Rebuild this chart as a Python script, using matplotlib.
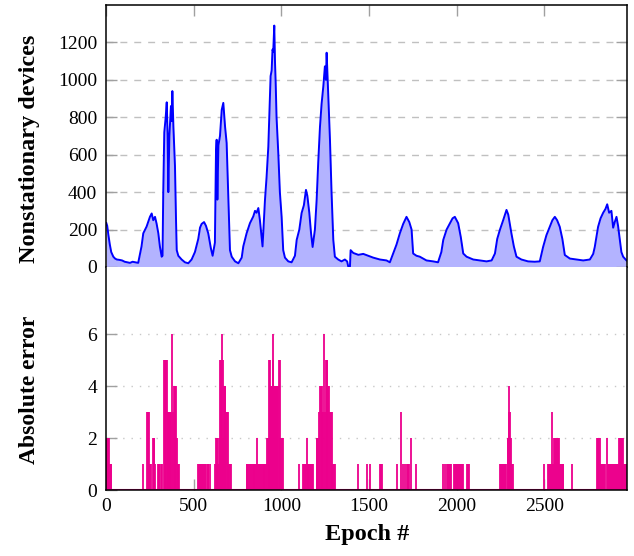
import matplotlib
matplotlib.use('Agg')
import matplotlib.pyplot as plt
import numpy as np

# nonstationary devices per epoch
dev_epoch = [0, 5, 12, 20, 28, 40, 50, 60, 75, 90, 105, 120, 135, 150, 165, 182,
             201, 211, 230, 249, 259, 268, 278, 287, 297, 306, 316,
             321, 325, 331, 339, 345, 350, 354, 360, 369, 373, 377, 383, 392, 398,
             402, 411, 430, 449, 468, 487,
             506, 525, 535, 544, 558, 569, 582, 597, 607,
             620, 626, 630, 634, 640, 649, 659, 668, 678, 687, 697, 706, 716, 735,
             754, 773,
             782, 801, 820, 839, 849, 858, 868, 877, 892,
             906, 915, 925, 934, 938, 944, 949, 953, 959, 963, 967, 972, 982, 991,
             1001, 1010, 1020, 1039, 1058, 1077,
             1087, 1102, 1115, 1128, 1140, 1148, 1159, 1169, 1178,
             1191, 1201, 1210, 1220, 1229, 1239, 1248, 1254, 1258, 1264, 1269, 1277,
             1286, 1296, 1305, 1324, 1343, 1362, 1375, 1382, 1391, 1395, 1410, 1439,
             1467, 1496, 1524, 1562, 1600, 1619,
             1638, 1657, 1676, 1695, 1714, 1730, 1743, 1752, 1771, 1790, 1828, 1866,
             1894, 1913, 1924, 1943, 1962, 1977, 1990, 2009, 2024, 2038, 2057, 2095,
             2133, 2171, 2200, 2219, 2232, 2247, 2266, 2285, 2295, 2304, 2313, 2327,
             2342, 2370, 2408, 2446, 2475, 2494, 2513, 2532, 2547, 2561, 2574, 2589,
             2604, 2618, 2647, 2685, 2723, 2761, 2780, 2789, 2808, 2822, 2837, 2850,
             2860, 2871, 2884, 2894, 2903, 2913, 2922, 2932, 2941, 2951, 2970]
dev_count = [235, 220, 170, 120, 80, 55, 45, 40, 38, 35, 28, 25, 22, 28, 25, 22,
             110, 180, 216, 268, 286, 250, 268, 232, 180, 109, 55,
             60, 400, 720, 800, 880, 700, 400, 700, 860, 780, 940, 750, 540, 250,
             90, 60, 40, 25, 20, 40,
             80, 150, 210, 230, 240, 220, 180, 100, 60,
             130, 600, 680, 360, 650, 700, 840, 877, 750, 663, 360, 90, 55, 30,
             20, 50,
             110, 180, 234, 270, 300, 290, 315, 250, 110,
             360, 480, 643, 900, 1020, 1050, 1162, 1150, 1290, 1100, 985, 800, 607, 400,
             268, 90, 50, 30, 25, 60,
             145, 200, 288, 330, 412, 380, 290, 180, 107,
             200, 360, 560, 750, 870, 965, 1072, 1000, 1145, 1000, 877, 680,
             400, 145, 55, 40, 30, 40, 30, 0, 0, 90, 75, 65,
             70, 60, 50, 40, 35, 25,
             72, 120, 180, 230, 268, 240, 200, 72, 60, 55, 35, 30,
             25, 80, 145, 200, 234, 260, 268, 234, 160, 72, 55, 40,
             35, 30, 35, 72, 150, 198, 250, 305, 280, 230, 180, 110,
             55, 40, 30, 28, 30, 107, 170, 215, 250, 268, 250, 215,
             150, 64, 45, 40, 35, 40, 70, 107, 215, 260, 290, 310,
             335, 290, 300, 210, 240, 268, 220, 145, 80, 55, 35]

# absolute error per epoch
err_epoch = [0, 4, 8, 12, 16, 20, 24, 28,
             211, 234, 238, 242, 246, 250, 253, 265, 270, 274, 278, 293, 298, 303, 310, 316,
             329, 333, 337, 341, 345, 350, 354, 358, 362, 366, 370, 375, 379, 386, 390, 394,
             398, 402, 407, 411, 415,
             525, 530, 535, 541, 547, 554, 560, 566, 572, 578, 583, 592,
             620, 626, 630, 634, 640, 645, 649, 653, 657, 659, 664, 668, 672, 676, 680,
             684, 688, 692, 697, 701, 705, 710,
             801, 806, 811, 816, 821, 826, 831, 836, 841, 846, 851, 856, 862, 868, 873,
             878, 883, 888, 893, 898, 903, 908, 913, 919, 923, 927, 931, 935, 938, 942,
             946, 949, 953, 957, 961, 965, 969, 973, 977, 981, 986, 989, 993, 998, 1003, 1007,
             1100, 1125, 1130, 1135, 1140, 1144, 1149, 1154, 1159, 1164, 1169, 1174, 1179,
             1201, 1205, 1210, 1216, 1220, 1224, 1229, 1233, 1238, 1243, 1248, 1254, 1258,
             1262, 1267, 1272, 1277, 1282, 1286, 1290, 1295, 1300, 1305,
             1439, 1490, 1505, 1562, 1567, 1572,
             1661, 1680, 1696, 1705, 1718, 1724, 1730, 1737, 1766,
             1924, 1934, 1947, 1952, 1957, 1962, 1966, 1987, 1992, 1997, 2002, 2008,
             2013, 2019, 2028, 2033, 2038, 2057, 2063, 2070,
             2247, 2253, 2259, 2265, 2271, 2277, 2283, 2291, 2295, 2298, 2302, 2305,
             2308, 2313, 2318, 2324,
             2500, 2523, 2528, 2533, 2538, 2544, 2549, 2557, 2562, 2567, 2572, 2577,
             2582, 2588, 2594, 2600, 2605, 2609, 2660,
             2802, 2806, 2810, 2814, 2818, 2824, 2830, 2836, 2842, 2848, 2856, 2862,
             2868, 2874, 2880, 2886, 2892, 2898, 2904, 2910, 2916, 2922, 2928, 2933,
             2938, 2943, 2947, 2951, 2958, 2964, 2970]
err_value = [2, 2, 2, 2, 2, 1, 1, 1,
             1, 3, 3, 3, 1, 1, 1, 2, 2, 2, 1, 1, 1, 1, 1, 1,
             5, 5, 5, 5, 5, 3, 3, 3, 3, 3, 3, 6, 3, 4, 4, 4,
             4, 2, 1, 1, 1,
             1, 1, 1, 1, 1, 1, 1, 1, 1, 1, 1, 1,
             1, 2, 2, 2, 1, 2, 5, 5, 5, 6, 5, 2, 4, 4, 4,
             3, 3, 3, 1, 1, 1, 1,
             1, 1, 1, 1, 1, 1, 1, 1, 1, 1, 1, 1, 2, 1, 1,
             1, 1, 1, 1, 1, 1, 1, 1, 2, 2, 2, 5, 5, 4, 4,
             4, 6, 5, 4, 4, 4, 4, 4, 4, 4, 5, 5, 2, 2, 2, 2,
             1, 1, 1, 1, 1, 2, 1, 1, 1, 1, 1, 1, 1,
             2, 2, 2, 3, 4, 4, 4, 3, 3, 6, 3, 5, 5,
             5, 4, 4, 3, 3, 3, 1, 1, 1, 1,
             1, 1, 1, 1, 1, 1,
             1, 3, 1, 1, 1, 1, 1, 2, 1,
             1, 1, 1, 1, 1, 1, 1, 1, 1, 1, 1, 1,
             1, 1, 1, 1, 1, 1, 1, 1,
             1, 1, 1, 1, 1, 1, 1, 2, 2, 3, 4, 3,
             2, 1, 1, 1,
             1, 1, 1, 1, 1, 3, 1, 2, 2, 2, 2, 2,
             2, 1, 1, 1, 1, 1, 1,
             2, 2, 2, 2, 2, 1, 1, 1, 1, 1, 2, 1,
             1, 1, 1, 1, 1, 1, 1, 1, 1, 1, 2, 2,
             2, 2, 2, 2, 1, 1, 1]

x_ticks = [0, 500, 1000, 1500, 2000, 2500]
dev_ticks = [0, 200, 400, 600, 800, 1000, 1200]
err_ticks = [0, 2, 4, 6]

plt.rcParams['font.family'] = ['Liberation Serif', 'DejaVu Serif']
plt.rcParams['font.size'] = 14

blue = '#0000ff'
fill_blue = '#b3b3ff'
magenta = '#ec008c'
tick_gray = '#a0a0a0'

fig = plt.figure(figsize=(6.34, 5.56), dpi=100)
left, width = 0.1677, 0.8218
ax1 = fig.add_axes([left, 0.5198, width, 0.4712])
ax2 = fig.add_axes([left, 0.1187, width, 0.4011])
xmax = 2975

# top panel
ax1.fill_between(dev_epoch, dev_count, 0, color=fill_blue, lw=0)
ax1.plot(dev_epoch, dev_count, color=blue, lw=1.4)
ax1.set_xlim(0, xmax)
ax1.set_ylim(0, 1400)
ax1.set_yticks(dev_ticks)
ax1.set_xticks(x_ticks)
ax1.tick_params(axis='x', which='both', bottom=False, top=True, labelbottom=False,
                direction='in', length=8, width=1, color=tick_gray)
ax1.tick_params(axis='y', left=True, right=True, direction='in', length=8, width=1,
                color=tick_gray, pad=6.5)
for y in dev_ticks[1:]:
    ax1.axhline(y, color='#c0c0c0', lw=1, ls=(0, (5, 5)), zorder=0)
ax1.spines['bottom'].set_visible(False)
ax1.set_ylabel('Nonstationary devices', fontsize=17.5, fontweight='bold')
ax1.yaxis.set_label_coords(-0.127, 0.45)

# lower panel
ax2.vlines(err_epoch, 0, err_value, color=magenta, lw=1.3)
ax2.axhline(0, color=magenta, lw=1.5)
ax2.set_xlim(0, xmax)
ax2.set_ylim(0, 8.58)
ax2.set_yticks(err_ticks)
ax2.set_xticks(x_ticks)
ax2.tick_params(axis='x', direction='in', length=8, width=1, color=tick_gray, pad=6)
ax2.tick_params(axis='y', direction='in', length=8, width=1, color=tick_gray, pad=6.5)
for y in err_ticks[1:]:
    ax2.axhline(y, color='#c8c8c8', lw=1, ls=(0, (1, 5)), zorder=0)
ax2.spines['top'].set_visible(False)
ax2.set_ylabel('Absolute error', fontsize=17, fontweight='bold')
ax2.yaxis.set_label_coords(-0.127, 0.45)
ax2.set_xlabel('Epoch #', fontsize=17.5, fontweight='bold', labelpad=6)

for ax in (ax1, ax2):
    for s in ax.spines.values():
        s.set_linewidth(1.1)

fig.savefig('out.png', dpi=100)
